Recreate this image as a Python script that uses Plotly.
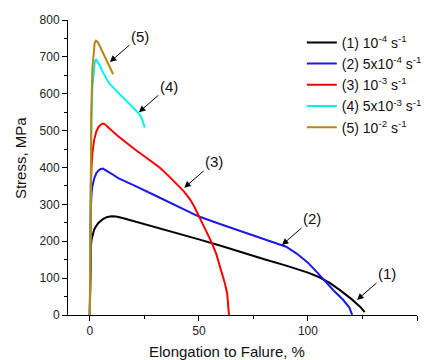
import plotly.graph_objects as go

# ---- data ----
names = ["(1) 10<sup>-4</sup> s<sup>-1</sup>", "(2) 5x10<sup>-4</sup> s<sup>-1</sup>",
         "(3) 10<sup>-3</sup> s<sup>-1</sup>", "(4) 5x10<sup>-3</sup> s<sup>-1</sup>",
         "(5) 10<sup>-2</sup> s<sup>-1</sup>"]
colors = ["#000000", "#1a1ae6", "#ff0000", "#00f0f0", "#b8860b"]

x1 = [0, 0.15, 0.3, 0.5, 0.8, 1.2, 2, 3, 4, 6, 8, 10, 12, 15, 20, 25, 30, 40, 50, 60, 70, 80, 90, 100, 105, 110, 115, 120, 124, 126]
y1 = [0, 80, 150, 185, 204, 215, 232, 242, 250, 260, 266, 268, 267, 263, 255, 246, 238, 222, 205, 188, 169, 151, 134, 115, 103, 87, 66, 43, 22, 8]

x2 = [0, 0.2, 0.5, 0.8, 1.2, 2, 3, 4, 5, 6, 8, 10, 13, 16, 20, 30, 40, 50, 60, 70, 80, 85, 90, 95, 100, 104, 108, 112, 116, 119, 120.3]
y2 = [0, 150, 290, 330, 350, 370, 385, 392, 396, 397, 391, 383, 371, 362, 352, 324, 295, 267, 246, 226, 205, 196, 185, 166, 142, 117, 90, 65, 42, 20, 0]

x3 = [0, 0.2, 0.5, 0.8, 1.2, 2, 3, 4, 5, 6, 7, 9, 13, 20, 28, 32, 36, 40, 43, 46, 48, 50, 52, 54, 56, 58, 60, 62, 63, 63.6, 63.8]
y3 = [0, 200, 350, 404, 440, 475, 498, 510, 516, 519, 517, 506, 485, 452, 416, 400, 378, 355, 336, 313, 293, 268, 243, 219, 195, 165, 127, 84, 57, 25, 0]

x4 = [0, 0.3, 0.7, 1.2, 1.8, 2.3, 2.8, 3.5, 4.6, 5.7, 6.9, 8, 9.2, 10.7, 12.2, 13.8, 15.3, 16.8, 18.3, 19.9, 21.4, 22.5, 23.7, 24.5, 25.2]
y4 = [0, 300, 520, 620, 665, 686, 694, 688, 676, 662, 648, 637, 626, 617, 608, 599, 590, 581, 571, 561, 553, 546, 535, 522, 508]

x5 = [0, 0.3, 0.7, 1.2, 1.7, 2.2, 2.8, 3.5, 4.5, 5.5, 6.5, 7.5, 8.5, 9.5, 10.7]
y5 = [0, 320, 560, 670, 718, 737, 744, 741, 730, 717, 704, 691, 678, 666, 653]

labels = ["(1)", "(2)", "(3)", "(4)", "(5)"]
arrow_x = [122.5, 88.1, 43.3, 22.5, 9.2]
arrow_y = [41, 190, 345, 550, 686]

FONT = "Arial, Liberation Sans, sans-serif"

fig = go.Figure()
for xs, ys, nm, c in zip([x1, x2, x3, x4, x5], [y1, y2, y3, y4, y5], names, colors):
    fig.add_trace(go.Scatter(x=xs, y=ys, mode="lines", name=nm,
                             line=dict(color=c, width=2)))

for lb, ax_, ay_ in zip(labels, arrow_x, arrow_y):
    fig.add_annotation(x=ax_, y=ay_, xref="x", yref="y", text=lb, showarrow=True,
                       arrowhead=2, arrowsize=1.3, arrowwidth=1, arrowcolor="#000",
                       ax=30, ay=-26, font=dict(size=15, color="#111", family=FONT))

fig.add_annotation(text="Elongation to Falure, %", xref="paper", yref="paper",
                   x=0.457, y=-0.125, showarrow=False, xanchor="center", yanchor="middle",
                   font=dict(size=15, color="#111", family=FONT))
fig.add_annotation(text="Stress, MPa", xref="paper", yref="paper",
                   x=-0.1375, y=0.532, showarrow=False, textangle=-90,
                   xanchor="center", yanchor="middle",
                   font=dict(size=15, color="#111", family=FONT))

fig.update_xaxes(range=[-10, 150], tickvals=[0, 50, 100, 150], showgrid=False,
                 zeroline=False, showline=True, linecolor="#000", linewidth=1,
                 ticks="outside", ticklen=5, tickcolor="#000",
                 minor=dict(ticks="outside", ticklen=3, dtick=25, tick0=0, tickcolor="#000"),
                 tickfont=dict(size=12, color="#222", family=FONT))
fig.update_yaxes(range=[0, 800], dtick=100, showgrid=False, zeroline=False,
                 showline=True, linecolor="#000", linewidth=1,
                 ticks="outside", ticklen=5, tickcolor="#000",
                 minor=dict(ticks="outside", ticklen=3, dtick=50, tick0=0, tickcolor="#000"),
                 tickfont=dict(size=12, color="#222", family=FONT))

fig.update_layout(width=427, height=360,
                  margin=dict(l=68, r=10, t=20, b=45, autoexpand=False),
                  plot_bgcolor="white", paper_bgcolor="white",
                  font=dict(family=FONT),
                  legend=dict(x=0.67, y=0.977, xanchor="left", yanchor="top",
                              bgcolor="rgba(0,0,0,0)", font=dict(size=14, color="#111"),
                              itemwidth=30, tracegroupgap=0))

fig.write_html("out.html", config={"responsive": False, "displayModeBar": False},
               post_script="document.body.style.margin='0';document.body.style.overflow='hidden';")
